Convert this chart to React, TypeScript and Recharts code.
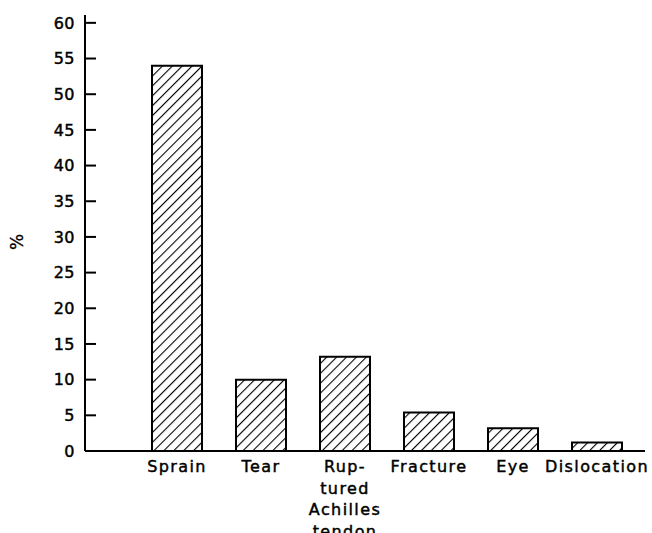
import React from 'react';
import { BarChart, Bar, XAxis, YAxis } from 'recharts';

const categories = ['Sprain', 'Tear', 'Rup-\ntured\nAchilles\ntendon', 'Fracture', 'Eye', 'Dislocation'];
const percentages = [54, 10, 13.2, 5.4, 3.2, 1.2];
const yTicks = [0, 5, 10, 15, 20, 25, 30, 35, 40, 45, 50, 55, 60];

const data = categories.map((c, i) => ({ name: c, value: percentages[i] }));

const FONT = '"DejaVu Sans", sans-serif';

const XTick = (props: any) => {
  const { x, y, payload } = props;
  const lines = String(payload.value).split('\n');
  return (
    <text x={x} y={y} textAnchor="middle" fontFamily={FONT} fontSize={16} letterSpacing={1.4} fill="#000" stroke="#000" strokeWidth={0.45}>
      {lines.map((l, i) => (
        <tspan key={i} x={x} dy={i === 0 ? 21 : 21.5}>{l}</tspan>
      ))}
    </text>
  );
};

const YTick = (props: any) => {
  const { x, y, payload } = props;
  return (
    <g>
      <line x1={x} y1={y} x2={x + 11} y2={y} stroke="#000" strokeWidth={2} />
      <text x={x - 10} y={y} dy="0.36em" textAnchor="end" fontFamily={FONT} fontSize={16} letterSpacing={0.5} fill="#000" stroke="#000" strokeWidth={0.45}>
        {payload.value}
      </text>
    </g>
  );
};

export default function App() {
  return (
    <div style={{ position: 'absolute', left: 0, top: 0, width: 652, height: 533, background: '#fff' }}>
      <BarChart width={652} height={533} data={data} margin={{ top: 15, right: 7, bottom: 52, left: 0 }}>
        <defs>
          <pattern id="hatch" patternUnits="userSpaceOnUse" width={7} height={7} patternTransform="rotate(45)">
            <rect width={7} height={7} fill="#fff" />
            <line x1={0} y1={0} x2={0} y2={7} stroke="#000" strokeWidth={2.2} />
          </pattern>
        </defs>
        <XAxis
          dataKey="name"
          height={30}
          interval={0}
          padding={{ left: 50, right: 6 }}
          tickLine={false}
          tickSize={0}
          tickMargin={0}
          axisLine={{ stroke: '#000', strokeWidth: 2 }}
          tick={<XTick />}
        />
        <YAxis
          width={85}
          domain={[0, 61.1]}
          ticks={yTicks}
          interval={0}
          tickLine={false}
          tickSize={0}
          tickMargin={0}
          axisLine={{ stroke: '#000', strokeWidth: 2 }}
          tick={<YTick />}
          label={{
            content: () => (
              <text x={17} y={242} transform="rotate(-90 17 242)" textAnchor="middle" dy="0.36em" fontFamily={FONT} fontSize={17} fill="#000" stroke="#000" strokeWidth={0.3}>
                %
              </text>
            ),
          }}
        />
        <Bar dataKey="value" barSize={50} fill="url(#hatch)" stroke="#000" strokeWidth={2} isAnimationActive={false} />
      </BarChart>
    </div>
  );
}
